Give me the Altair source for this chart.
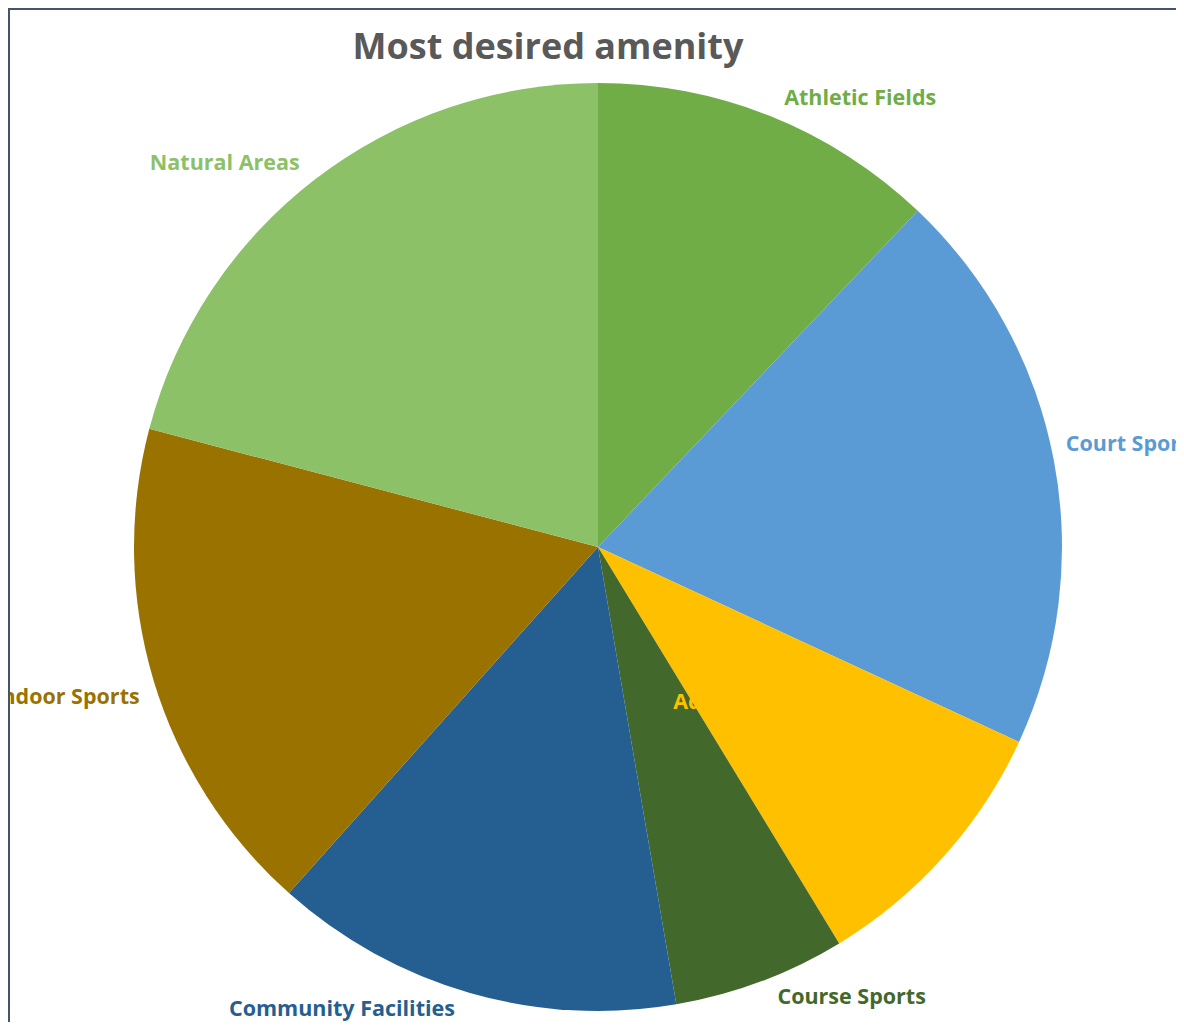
import altair as alt
import pandas as pd

categories = ["Athletic Fields", "Court Sports", "Adaptive Sports", "Course Sports",
              "Community Facilities", "Indoor Sports", "Natural Areas"]
shares = [12.1, 19.8, 9.4, 6.0, 14.3, 17.5, 20.9]
colors = ["#70AD47", "#5B9BD5", "#FFC000", "#43682B", "#255E91", "#9A7200", "#8CC168"]

df = pd.DataFrame({"cat": categories, "share": shares, "idx": list(range(len(categories)))})

W, H = 1168, 1014
CX, CY, R = 590, 539, 464
FONT = "Open Sans"

base = alt.Chart(df)

pie = base.mark_arc(stroke=None).encode(
    theta=alt.Theta("share:Q", stack=True),
    color=alt.Color("cat:N", scale=alt.Scale(domain=categories, range=colors), legend=None),
    order=alt.Order("idx:Q"),
    x=alt.value(CX), y=alt.value(CY), radius=alt.value(R),
)

# label placement: (category, radius, dx, dy, align)
label_layout = [
    ("Athletic Fields", 464, 90, -17, "center"),
    ("Court Sports", 464, 12, -15, "left"),
    ("Adaptive Sports", 200, -74, 23, "left"),
    ("Course Sports", 464, 91, 16, "center"),
    ("Community Facilities", 464, -128, 17, "center"),
    ("Indoor Sports", 464, -14, 17, "right"),
    ("Natural Areas", 464, -90, -15, "center"),
]

layers = [pie]
for cat, rad, dx, dy, align in label_layout:
    col = colors[categories.index(cat)]
    lab = base.transform_calculate(
        lbl=f"datum.cat === '{cat}' ? datum.cat : ''"
    ).mark_text(
        font=FONT, fontSize=21.5, fontWeight="bold", color=col,
        align=align, baseline="middle", dx=dx, dy=dy,
    ).encode(
        theta=alt.Theta("share:Q", stack=True),
        order=alt.Order("idx:Q"),
        x=alt.value(CX), y=alt.value(CY), radius=alt.value(rad),
        text=alt.Text("lbl:N"),
    )
    layers.append(lab)

title = alt.Chart(pd.DataFrame({"t": ["Most desired amenity"]})).mark_text(
    font=FONT, fontSize=36, fontWeight="bold", color="#595959", align="center", baseline="middle"
).encode(x=alt.value(540), y=alt.value(40), text="t:N")

border_left = alt.Chart(pd.DataFrame({"a": [0]})).mark_rule(color="#44546A", strokeWidth=2).encode(
    x=alt.value(1), y=alt.value(0), y2=alt.value(H))
border_top = alt.Chart(pd.DataFrame({"a": [0]})).mark_rule(color="#44546A", strokeWidth=2).encode(
    y=alt.value(1), x=alt.value(0), x2=alt.value(W))

chart = alt.layer(*layers, title, border_left, border_top).properties(
    width=W, height=H, autosize=alt.AutoSizeParams(type="none"), padding=0,
    background="white",
).configure_view(stroke=None)

chart.save("out.html", embed_options={"renderer": "svg", "actions": False})
